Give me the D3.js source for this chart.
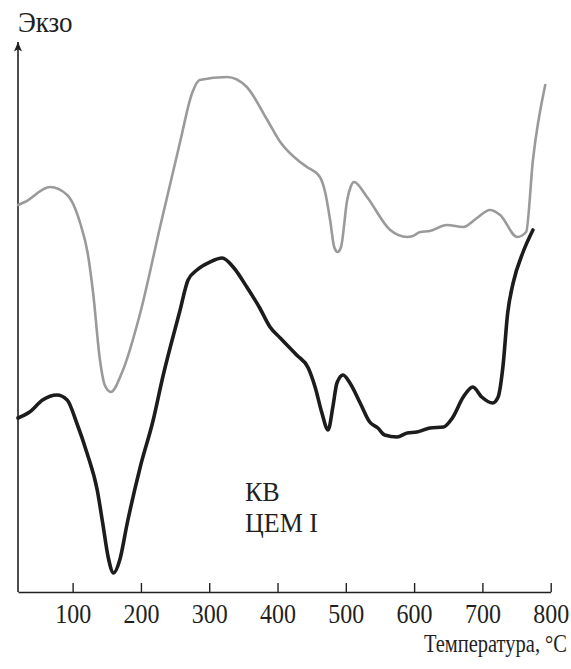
<!DOCTYPE html>
<html>
<head>
<meta charset="utf-8">
<script src="https://cdn.jsdelivr.net/npm/d3@7"></script>
<style>
  html, body { margin: 0; padding: 0; background: #fff; }
  svg { display: block; }
</style>
</head>
<body>
<svg id="chart" width="571" height="669"></svg>
<script>
// ---- data (temperature °C, signal in arbitrary units) ----
const tickValues = [100, 200, 300, 400, 500, 600, 700, 800];
const xLabel = "Температура, °C";
const yLabel = "Экзо";
const sampleLabels = ["КВ", "ЦЕМ I"];

const grayT = [20, 30, 67, 92, 111, 122, 130, 140, 147, 156, 172, 199, 228, 257, 275, 286, 326, 355, 385, 404, 433, 443, 462, 470, 477, 483, 488, 493, 502, 507, 512, 531, 565, 590, 598, 609, 623, 648, 672, 692, 711, 726, 751, 764, 774, 792];
const grayV = [387, 390, 405, 397, 369, 339, 299, 232, 207, 200, 219, 279, 365, 449, 499, 512, 515, 505, 472, 450, 430, 425, 415, 399, 372, 345, 340, 345, 392, 405, 410, 395, 362, 355, 356, 360, 361, 367, 365, 374, 382, 377, 355, 360, 432, 507];

const blackT = [20, 37, 56, 77, 92, 106, 121, 136, 144, 152, 160, 169, 180, 199, 218, 232, 257, 269, 282, 301, 319, 335, 355, 374, 389, 404, 428, 445, 455, 465, 474, 481, 487, 496, 506, 521, 535, 547, 557, 575, 590, 604, 623, 643, 656, 672, 686, 699, 715, 723, 730, 737, 745, 759, 774];
const blackV = [174, 180, 192, 197, 192, 169, 139, 102, 69, 35, 19, 32, 69, 125, 172, 215, 281, 312, 322, 330, 334, 325, 305, 284, 265, 254, 237, 224, 205, 179, 162, 185, 209, 217, 209, 189, 170, 164, 157, 155, 159, 160, 164, 165, 174, 195, 205, 195, 189, 195, 225, 279, 309, 339, 362];

const gray = grayT.map((t, i) => ({t, v: grayV[i]}));
const black = blackT.map((t, i) => ({t, v: blackV[i]}));

const FONT = "'Liberation Serif'";
const INK = "#231f20";

// ---- scales ----
const svg = d3.select("#chart");
const x = d3.scaleLinear().domain([20, 800]).range([18, 550.7]);
const y = d3.scaleLinear().domain([0, 550]).range([592, 42]);

// helper: real text, slightly stretched vertically like the printed font
function label(px, py, str, size, sy, anchor) {
  return svg.append("text")
    .attr("transform", `translate(${px},${py}) scale(1,${sy})`)
    .attr("text-anchor", anchor || "start")
    .attr("font-family", FONT)
    .attr("font-size", size)
    .attr("fill", INK)
    .text(str);
}

// ---- x axis ----
const xAxis = d3.axisBottom(x)
  .tickValues(tickValues)
  .tickSize(-9)
  .tickSizeOuter(0)
  .tickFormat(d3.format("d"));
const gx = svg.append("g")
  .attr("transform", `translate(0,${y(0)})`)
  .call(xAxis)
  .attr("font-family", FONT)
  .attr("font-size", 24);
gx.select(".domain").attr("stroke", INK).attr("stroke-width", 1.6);
gx.selectAll(".tick line").attr("stroke", INK).attr("stroke-width", 1.4);
gx.selectAll(".tick text")
  .attr("y", 0).attr("dy", 0)
  .attr("transform", "translate(0,31) scale(1,1.1)")
  .attr("font-family", FONT)
  .attr("font-size", 24)
  .attr("fill", INK);

label(567, 652, xLabel, 20.5, 1.22, "end");

// ---- y axis with arrow ----
svg.append("defs").append("marker")
  .attr("id", "arrow")
  .attr("viewBox", "0 0 10 12")
  .attr("refX", 5).attr("refY", 0)
  .attr("markerWidth", 8).attr("markerHeight", 10)
  .attr("markerUnits", "userSpaceOnUse")
  .attr("orient", "0")
  .append("path")
  .attr("d", "M5,0 L10,12 L5,9 L0,12 Z")
  .attr("fill", INK);

svg.append("line")
  .attr("x1", x(20)).attr("x2", x(20))
  .attr("y1", y(0)).attr("y2", y(550))
  .attr("stroke", INK).attr("stroke-width", 1.6)
  .attr("marker-end", "url(#arrow)");

label(18, 32, yLabel, 27, 1.08);

// ---- curves ----
const line = d3.line()
  .x(d => x(d.t))
  .y(d => y(d.v))
  .curve(d3.curveMonotoneX);

svg.append("path")
  .datum(gray)
  .attr("d", line)
  .attr("fill", "none")
  .attr("stroke", "#9a9a9a")
  .attr("stroke-width", 2.6)
  .attr("stroke-linejoin", "round")
  .attr("stroke-linecap", "round");

svg.append("path")
  .datum(black)
  .attr("d", line)
  .attr("fill", "none")
  .attr("stroke", "#1c1c1c")
  .attr("stroke-width", 3.6)
  .attr("stroke-linejoin", "round")
  .attr("stroke-linecap", "round");

// ---- sample label ----
label(245, 501, sampleLabels[0], 26, 1.06);
label(245, 532, sampleLabels[1], 26, 1.06);
</script>
</body>
</html>
